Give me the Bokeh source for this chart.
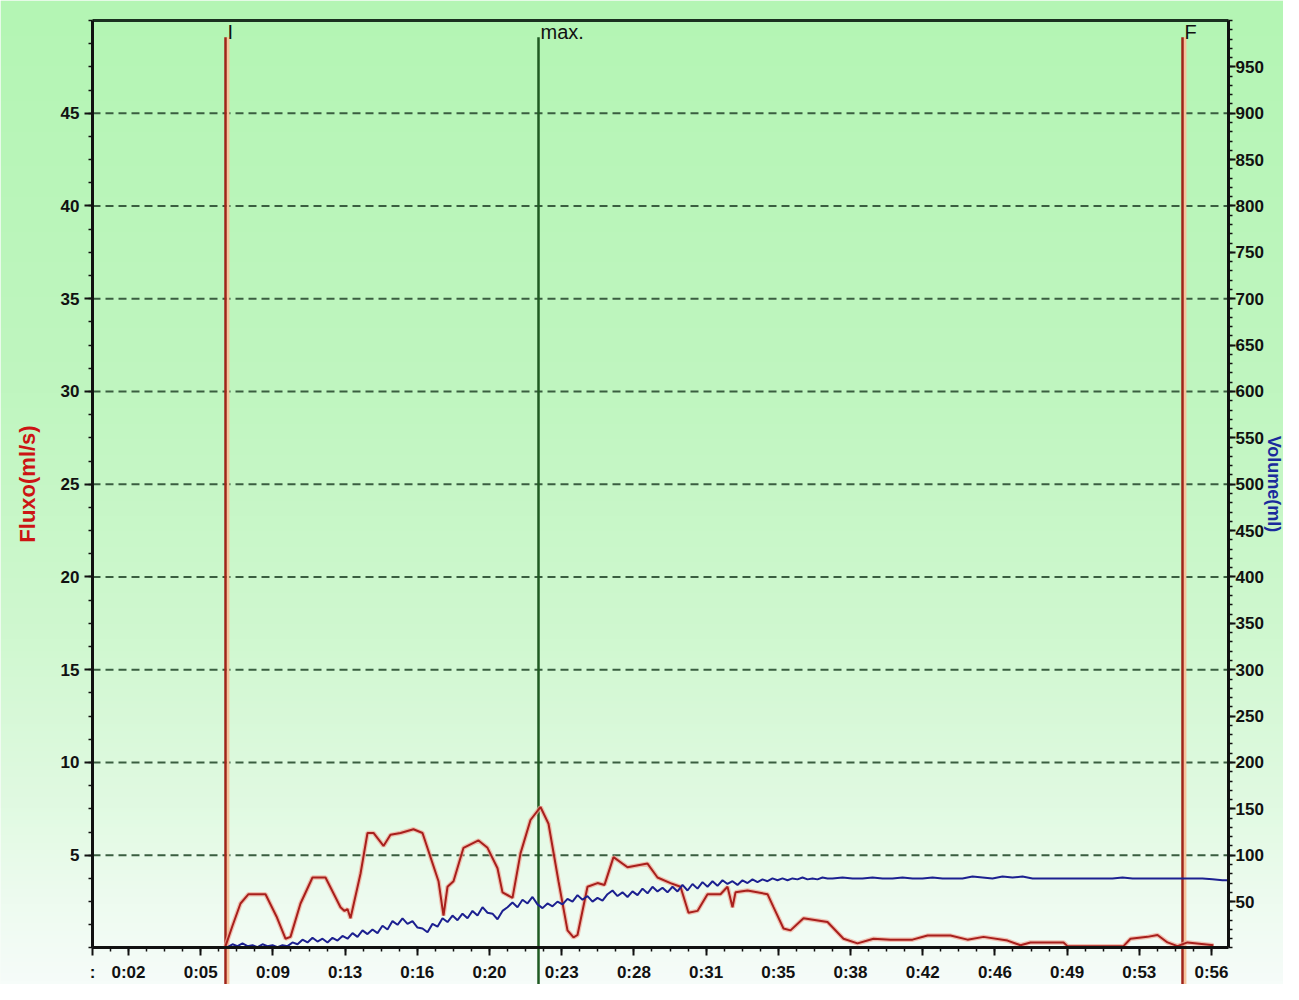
import numpy as np
from bokeh.plotting import figure
from bokeh.models import Range1d, LinearAxis, FixedTicker
from bokeh.embed import file_html
from bokeh.resources import INLINE
from bokeh.core.properties import value

# ---------------- data ----------------
# flow (ml/s) against time (s)
flow_time = [6.65, 7.0, 7.4, 7.8, 8.65, 9.2, 9.65, 9.9, 10.4, 11.0, 11.65, 12.4, 12.6, 12.75, 12.9,
             13.4, 13.75, 14.05, 14.55, 14.9, 15.4, 16.05, 16.5, 16.9, 17.3, 17.55, 17.75, 18.05,
             18.55, 19.3, 19.75, 20.25, 20.5, 21.0, 21.4, 21.9, 22.4, 22.8, 23.3, 23.75, 24.05,
             24.25, 24.75, 25.25, 25.6, 26.05, 26.75, 27.75, 28.25, 28.9, 29.4, 29.8, 30.25, 30.75,
             31.4, 31.75, 32.0, 32.15, 32.75, 33.75, 34.05, 34.55, 34.9, 35.55, 36.75, 37.55, 38.25,
             39.05, 39.9, 41.0, 41.75, 42.9, 43.75, 44.55, 45.75, 46.4, 46.9, 48.55, 48.75, 51.55,
             51.9, 52.75, 53.25, 53.75, 54.25, 54.75, 56.05]
flow_value = [0.1, 1.2, 2.4, 2.9, 2.9, 1.7, 0.5, 0.6, 2.4, 3.8, 3.8, 2.2, 2.0, 2.1, 1.6,
              4.0, 6.2, 6.2, 5.5, 6.1, 6.2, 6.4, 6.2, 4.9, 3.6, 1.75, 3.3, 3.6,
              5.4, 5.8, 5.4, 4.3, 3.0, 2.7, 5.1, 6.9, 7.6, 6.7, 3.6, 0.95, 0.57,
              0.7, 3.3, 3.5, 3.4, 4.9, 4.35, 4.55, 3.8, 3.5, 3.3, 1.9, 2.0, 2.9,
              2.9, 3.3, 2.2, 3.0, 3.1, 2.9, 2.2, 1.05, 0.95, 1.6, 1.4, 0.5, 0.25,
              0.5, 0.45, 0.45, 0.67, 0.67, 0.45, 0.6, 0.4, 0.15, 0.3, 0.3, 0.1, 0.1,
              0.5, 0.6, 0.7, 0.3, 0.1, 0.3, 0.15]

# volume (ml) against time (s): 0.25 s samples 6.75..36.75, then 0.5 s samples
vol_time = list(np.arange(6.75, 36.76, 0.25)) + list(np.arange(37.0, 56.6, 0.5)) + [56.75]
vol_value = [1,
             4, 2, 5, 2,   3, 1, 4, 2,   3, 1, 3, 2,   6, 4, 9, 6,
             11, 7, 10, 6,   11, 8, 13, 10,   16, 12, 19, 15,   20, 16, 24, 20,
             29, 25, 32, 26,   29, 22, 21, 17,   26, 23, 32, 28,   35, 30, 37, 32,
             40, 35, 44, 38,   37, 31, 40, 44,   49, 44, 52, 48,   55, 47, 43, 48,
             45, 50, 47, 53,   50, 57, 52, 56,   50, 54, 51, 58,   62, 56, 60, 55,
             61, 57, 64, 59,   66, 61, 65, 60,   66, 61, 68, 62,   69, 64, 71, 66,
             72, 67, 73, 69,   72, 68, 73, 70,   74, 71, 74, 72,   75, 73, 75, 73,
             75, 74, 76, 74,   75, 74, 76, 75,
             75, 76, 75, 75, 76, 75, 75, 76, 75, 75, 76, 75, 75, 75, 77, 76, 75, 77, 76, 77,
             75, 75, 75, 75, 75, 75, 75, 75, 75, 76, 75, 75, 75, 75, 75, 75, 75, 75, 74, 73,
             73]

# event markers
marker_names = ["I", "max.", "F"]
marker_times = [6.65, 22.3, 54.5]

# axis ticks
flow_ticks = [5, 10, 15, 20, 25, 30, 35, 40, 45]
vol_ticks = [50, 100, 150, 200, 250, 300, 350, 400, 450, 500, 550, 600, 650, 700, 750, 800, 850, 900, 950]
x_tick_times = [0.0, 1.8, 5.41, 9.02, 12.63, 16.24, 19.85, 23.46, 27.07, 30.68, 34.29, 37.9,
                41.51, 45.12, 48.73, 52.34, 55.95]
x_tick_labels = [":", "0:02", "0:05", "0:09", "0:13", "0:16", "0:20", "0:23", "0:28", "0:31",
                 "0:35", "0:38", "0:42", "0:46", "0:49", "0:53", "0:56"]

X_END = 56.8      # end of time axis (s)
Y_END = 50.0      # end of flow axis (ml/s)
V_END = 1000.0    # end of volume axis (ml)

# ---------------- layout ----------------
W, H = 1283, 984
x_lo, x_hi = -4.6, 59.55
y_lo, y_hi = -1.968, 51.078
vscale = V_END / Y_END

FONT = "Liberation Sans"
INK = "#111111"

p = figure(width=W, height=H, x_range=Range1d(x_lo, x_hi), y_range=Range1d(y_lo, y_hi),
           output_backend="svg", toolbar_location=None, min_border=0, title=None,
           outline_line_color=None, background_fill_color="#f2fbf4", border_fill_color="#f2fbf4")
p.extra_y_ranges = {"vol": Range1d(y_lo * vscale, y_hi * vscale)}

# background gradient (light green at top -> almost white at bottom)
N = 256
frac = np.linspace(1.0, 0.0, N)   # row 0 = bottom
stops = [0.0, 0.4, 0.65, 0.82, 0.92, 1.0]
R = [180, 192, 208, 225, 238, 246]
G = [245, 246, 248, 250, 251, 252]
B = [180, 192, 208, 226, 240, 249]
img = np.empty((N, 1), dtype=np.uint32)
view = img.view(dtype=np.uint8).reshape((N, 1, 4))
view[:, 0, 0] = np.interp(frac, stops, R).astype(np.uint8)
view[:, 0, 1] = np.interp(frac, stops, G).astype(np.uint8)
view[:, 0, 2] = np.interp(frac, stops, B).astype(np.uint8)
view[:, 0, 3] = 255
p.image_rgba(image=[img], x=x_lo, y=y_lo, dw=x_hi - x_lo, dh=y_hi - y_lo, level="image")

# tickers
flow_minor = [1.25 * k for k in range(0, 41)]
vol_minor = [10 * k for k in range(0, 101)]
step = x_tick_times[2] - x_tick_times[1]
x_minor = [x_tick_times[1] + step / 4 * k for k in range(-8, 240)
           if 0 <= x_tick_times[1] + step / 4 * k <= X_END]
y_ticker = FixedTicker(ticks=flow_ticks, minor_ticks=flow_minor)

# dashed horizontal grid, limited to the frame
p.xgrid.visible = False
p.ygrid.visible = False
p.segment(x0=0, x1=X_END, y0=flow_ticks, y1=flow_ticks, line_color="#3a5e40",
          line_dash="8 5", line_width=2, level="underlay")


def style_axis(ax):
    ax.axis_line_color = INK
    ax.axis_line_width = 3
    ax.major_tick_line_color = INK
    ax.minor_tick_line_color = INK
    ax.major_tick_line_width = 2
    ax.minor_tick_line_width = 1.5
    ax.major_tick_in = 0
    ax.major_tick_out = 8
    ax.minor_tick_in = 0
    ax.minor_tick_out = 4
    ax.major_label_text_font = FONT
    ax.major_label_text_font_style = "bold"
    ax.major_label_text_font_size = "17px"
    ax.major_label_text_color = INK
    ax.axis_label_text_font = FONT
    ax.axis_label_text_font_style = "bold"
    ax.axis_label_text_font_size = "22px"


# left (flow) axis
ya = p.yaxis[0]
style_axis(ya)
ya.fixed_location = 0
ya.bounds = (0, Y_END)
ya.ticker = y_ticker
ya.major_label_standoff = 5
ya.axis_label = "Fluxo(ml/s)"
ya.axis_label_text_color = "#cc1414"
ya.axis_label_standoff = 18

# bottom (time) axis
xa = p.xaxis[0]
style_axis(xa)
xa.fixed_location = 0
xa.bounds = (0, X_END)
xa.ticker = FixedTicker(ticks=x_tick_times, minor_ticks=x_minor)
xa.major_label_overrides = dict(zip(x_tick_times, x_tick_labels))
xa.major_label_standoff = 7

# right (volume) axis
ra = LinearAxis(y_range_name="vol", ticker=FixedTicker(ticks=vol_ticks, minor_ticks=vol_minor))
style_axis(ra)
ra.fixed_location = X_END
ra.bounds = (0, V_END)
ra.major_tick_out = 7
ra.major_label_standoff = 0
ra.axis_label = "Volume(ml)"
ra.axis_label_text_color = "#1a2a9c"
ra.axis_label_text_font_size = "18px"
ra.axis_label_standoff = -3
p.add_layout(ra, "right")

# top frame line
ta = LinearAxis(ticker=FixedTicker(ticks=[]))
ta.fixed_location = Y_END
ta.bounds = (0, X_END)
ta.axis_line_color = "#1b3020"
ta.axis_line_width = 3
ta.major_tick_out = 0
ta.minor_tick_out = 0
ta.major_label_text_font_size = "0px"
p.add_layout(ta, "above")

# event markers
red_t = [t for n, t in zip(marker_names, marker_times) if n != "max."]
grn_t = [t for n, t in zip(marker_names, marker_times) if n == "max."]
top_y = 49.1
p.segment(x0=[t + 0.12 for t in red_t], x1=[t + 0.12 for t in red_t], y0=y_lo, y1=top_y,
          line_color="#f6c49c", line_width=3)
p.segment(x0=red_t, x1=red_t, y0=y_lo, y1=top_y, line_color="#a0241a", line_width=2.5)
p.segment(x0=grn_t, x1=grn_t, y0=y_lo, y1=top_y, line_color="#1f5a22", line_width=2.5)
p.text(x=marker_times, y=[Y_END] * len(marker_times), text=marker_names, x_offset=2, y_offset=1,
       text_baseline="top", text_align="left", text_font=value(FONT), text_font_size="20px",
       text_color=INK)

# curves
p.line(flow_time, flow_value, line_color="#f0a696", line_width=4.5, line_alpha=0.7)
p.line(flow_time, flow_value, line_color="#a81f1c", line_width=2)
p.line(vol_time, vol_value, y_range_name="vol", line_color="#1c2090", line_width=2)

open("out.html", "w").write(file_html(p, INLINE))
